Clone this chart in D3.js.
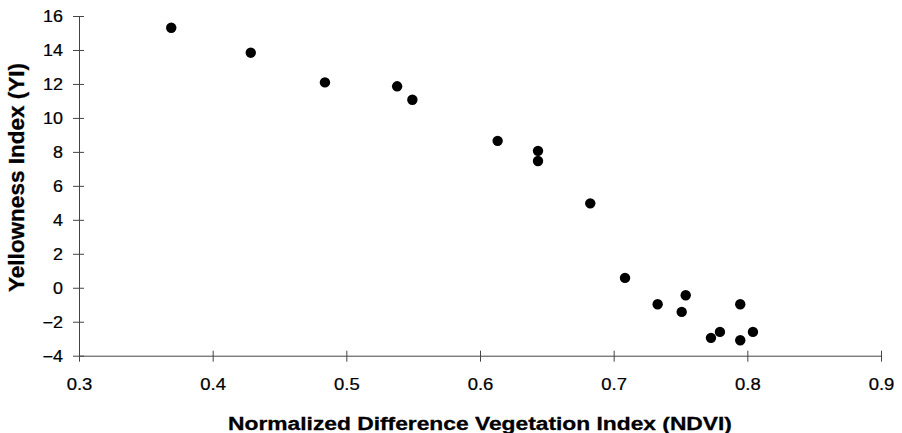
<!DOCTYPE html>
<html>
<head>
<meta charset="utf-8">
<script src="https://cdn.jsdelivr.net/npm/d3@7"></script>
<style>
  html, body { margin: 0; padding: 0; background: #fff; }
  svg { display: block; }
  text { font-family: "Liberation Sans", Arial, sans-serif; fill: #000; }
</style>
</head>
<body>
<svg id="chart" width="902" height="433"></svg>
<script>
// ---- data ----
const ndvi = [0.369, 0.4285, 0.484, 0.538, 0.5494, 0.6132, 0.6434, 0.6434, 0.6825,
              0.7085, 0.7329, 0.7539, 0.7509, 0.7947, 0.7795, 0.7728, 0.7947, 0.8042];
const yi   = [15.31, 13.84, 12.09, 11.86, 11.07, 8.65, 8.06, 7.46, 4.97,
              0.58, -0.97, -0.44, -1.42, -0.97, -2.60, -2.95, -3.09, -2.60];
const xTicks = [0.3, 0.4, 0.5, 0.6, 0.7, 0.8, 0.9];
const yTicks = [-4, -2, 0, 2, 4, 6, 8, 10, 12, 14, 16];
const xTitle = "Normalized Difference Vegetation Index (NDVI)";
const yTitle = "Yellowness Index (YI)";

const svg = d3.select("#chart");
const x = d3.scaleLinear().domain([0.3, 0.9]).range([79, 881]);
const y = d3.scaleLinear().domain([-4, 16]).range([355.7, 16]);
const axisColor = "#444";

// X axis
const gx = svg.append("g").attr("transform", `translate(0,${y(-4)})`)
  .call(d3.axisBottom(x).tickValues(xTicks).tickFormat(d3.format(".1f")).tickSizeOuter(0));
gx.select(".domain").attr("stroke", axisColor);
gx.selectAll(".tick line").attr("stroke", axisColor).attr("y1", -5).attr("y2", 6);
gx.selectAll(".tick text")
  .attr("y", null).attr("dy", null)
  .attr("font-size", 16.5)
  .attr("stroke", "#000").attr("stroke-width", 0.25)
  .attr("text-anchor", "middle")
  .attr("transform", "translate(0,34.5) scale(1.12,1)");

// Y axis
const gy = svg.append("g").attr("transform", `translate(${x(0.3)},0)`)
  .call(d3.axisLeft(y).tickValues(yTicks).tickFormat(d3.format("d")).tickSizeOuter(0));
gy.select(".domain").attr("stroke", axisColor);
gy.selectAll(".tick line").attr("stroke", axisColor).attr("x1", -6).attr("x2", 5);
gy.selectAll(".tick text")
  .attr("x", null).attr("dy", "0.35em")
  .attr("font-size", 16)
  .attr("stroke", "#000").attr("stroke-width", 0.25)
  .attr("text-anchor", "end")
  .attr("transform", "translate(-16,0) scale(1.12,1)");
svg.selectAll(".domain").attr("stroke-width", 1);

// points
svg.append("g").selectAll("circle")
  .data(ndvi.map((d, i) => [d, yi[i]]))
  .join("circle")
  .attr("cx", d => x(d[0]))
  .attr("cy", d => y(d[1]))
  .attr("r", 5.2)
  .attr("fill", "#000");

// titles
svg.append("text")
  .attr("transform", "translate(480,430) scale(1.2,1)")
  .attr("text-anchor", "middle")
  .attr("font-weight", "bold")
  .attr("font-size", 19)
  .attr("stroke", "#000").attr("stroke-width", 0.3)
  .text(xTitle);

svg.append("text")
  .attr("transform", "translate(24,177.5) rotate(-90)")
  .attr("text-anchor", "middle")
  .attr("font-weight", "bold")
  .attr("font-size", 22.5)
  .attr("stroke", "#000").attr("stroke-width", 0.3)
  .text(yTitle);
</script>
</body>
</html>
